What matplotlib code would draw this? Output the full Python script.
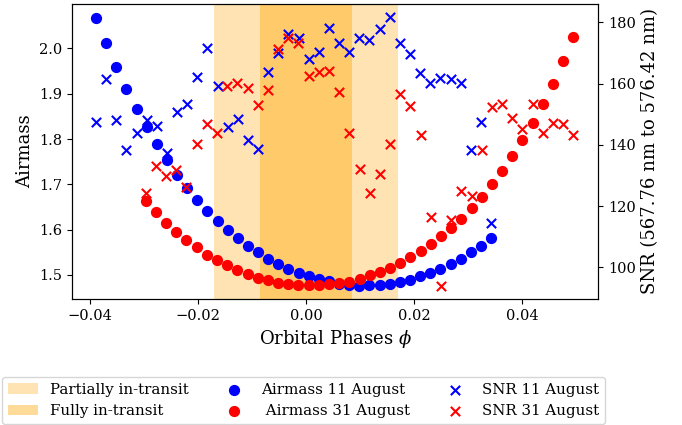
import matplotlib
matplotlib.use("Agg")
import matplotlib.pyplot as plt

plt.rcParams["font.family"] = "DejaVu Serif"
plt.rcParams["mathtext.fontset"] = "dejavuserif"

# transit windows in orbital phase
partial_transit = (-0.0171, 0.0171)
full_transit = (-0.0085, 0.0085)

# 11 August
phase_11 = [-0.03890, -0.03703, -0.03515, -0.03328, -0.03140, -0.02953, -0.02765, -0.02578,
            -0.02390, -0.02203, -0.02015, -0.01828, -0.01640, -0.01453, -0.01265, -0.01078,
            -0.00890, -0.00703, -0.00515, -0.00328, -0.00140, 0.00048, 0.00235, 0.00423,
            0.00610, 0.00798, 0.00985, 0.01173, 0.01360, 0.01548, 0.01735, 0.01923,
            0.02110, 0.02298, 0.02485, 0.02673, 0.02860, 0.03048, 0.03235, 0.03423]
airmass_11 = [2.068, 2.011, 1.959, 1.910, 1.866, 1.826, 1.789, 1.753,
              1.721, 1.693, 1.666, 1.642, 1.620, 1.599, 1.581, 1.564,
              1.550, 1.535, 1.524, 1.514, 1.505, 1.497, 1.491, 1.487,
              1.481, 1.478, 1.476, 1.477, 1.478, 1.480, 1.485, 1.489,
              1.497, 1.504, 1.514, 1.524, 1.536, 1.550, 1.565, 1.582]
snr_11 = [147.4, 161.4, 148.1, 138.4, 143.8, 148.1, 146.2, 137.2,
          150.8, 153.4, 162.0, 171.5, 159.2, 145.9, 148.4, 141.6,
          138.6, 163.9, 169.9, 176.2, 175.0, 167.9, 170.2, 178.2,
          173.1, 170.4, 174.8, 174.4, 177.8, 181.6, 173.3, 169.7,
          163.5, 160.1, 161.7, 161.5, 160.1, 138.3, 147.5, 114.4]

# 31 August
phase_31 = [-0.02970, -0.02782, -0.02593, -0.02405, -0.02216, -0.02028, -0.01839, -0.01651,
            -0.01462, -0.01274, -0.01085, -0.00897, -0.00708, -0.00520, -0.00331, -0.00143,
            0.00046, 0.00235, 0.00423, 0.00612, 0.00800, 0.00989, 0.01177, 0.01366,
            0.01554, 0.01743, 0.01931, 0.02120, 0.02308, 0.02497, 0.02685, 0.02874,
            0.03062, 0.03251, 0.03439, 0.03628, 0.03816, 0.04005, 0.04193, 0.04382,
            0.04570, 0.04759, 0.04947]
airmass_31 = [1.663, 1.638, 1.615, 1.595, 1.578, 1.561, 1.545, 1.532,
              1.521, 1.511, 1.502, 1.494, 1.488, 1.482, 1.480, 1.478,
              1.477, 1.478, 1.479, 1.482, 1.485, 1.492, 1.499, 1.506,
              1.516, 1.527, 1.540, 1.552, 1.568, 1.586, 1.604, 1.624,
              1.647, 1.672, 1.701, 1.729, 1.762, 1.797, 1.835, 1.877,
              1.922, 1.972, 2.026]
snr_31 = [124.4, 133.2, 129.9, 131.8, 126.3, 140.2, 146.8, 144.0,
          159.3, 160.1, 158.4, 152.9, 157.9, 171.3, 174.8, 173.1,
          162.5, 163.9, 164.2, 157.3, 143.8, 132.1, 124.4, 130.4,
          140.3, 156.5, 152.7, 143.1, 116.3, 94.0, 115.4, 124.9,
          123.3, 138.3, 152.2, 153.2, 148.7, 145.1, 153.2, 143.8,
          147.0, 146.7, 143.2]

fig = plt.figure(figsize=(6.82, 4.25), dpi=100)
ax = fig.add_axes([0.106, 0.2965, 0.7713, 0.6941])

p1 = ax.axvspan(*partial_transit, color="orange", alpha=0.3, lw=0, label="Partially in-transit")
p2 = ax.axvspan(*full_transit, color="orange", alpha=0.4, lw=0, label="Fully in-transit")

a1 = ax.scatter(phase_11, airmass_11, s=50, color="blue", label="Airmass 11 August")
a2 = ax.scatter(phase_31, airmass_31, s=50, color="red", label=" Airmass 31 August")

ax.set_xlim(-0.0433, 0.0541)
ax.set_ylim(1.447, 2.098)
ax.set_xlabel(r"Orbital Phases $\phi$", fontsize=13)
ax.set_ylabel("Airmass", fontsize=13)
ax.tick_params(labelsize=10.5)

ax2 = ax.twinx()
s1 = ax2.scatter(phase_11, snr_11, s=45, marker="x", color="blue", label="SNR 11 August")
s2 = ax2.scatter(phase_31, snr_31, s=45, marker="x", color="red", label="SNR 31 August")
ax2.set_ylim(89.65, 186.0)
ax2.set_ylabel("SNR (567.76 nm to 576.42 nm)", fontsize=13)
ax2.tick_params(labelsize=10.5)

handles = [p1, p2, a1, a2, s1, s2]
fig.legend(handles, [h.get_label() for h in handles], ncol=3, fontsize=10.8,
           loc="lower left", bbox_to_anchor=(0.003, 0.002), borderaxespad=0)

fig.savefig("out.png", dpi=100)
